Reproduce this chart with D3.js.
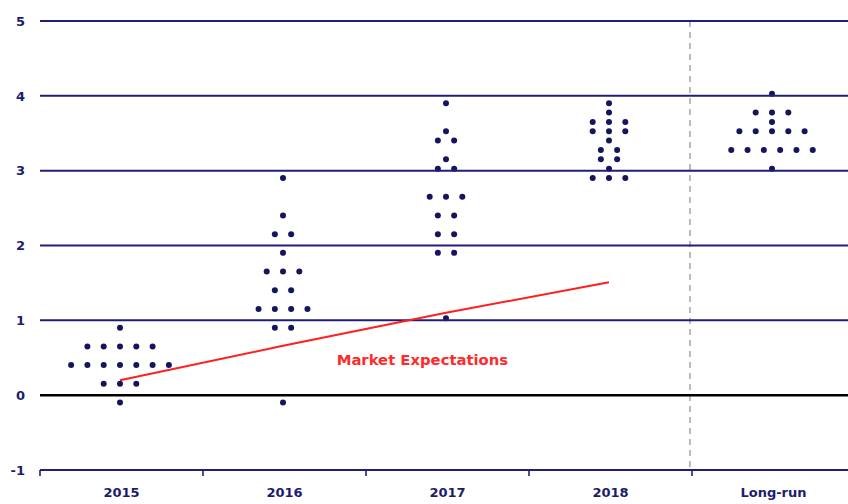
<!DOCTYPE html>
<html lang="en">
<head>
<meta charset="UTF-8">
<title>FOMC dot plot</title>
<script src="https://d3js.org/d3.v7.min.js"></script>
<style>
    body { margin: 0; padding: 0; background: #fff; }
    svg { display: block; }
    text { font-family: "DejaVu Sans", Verdana, sans-serif; font-weight: bold; }
</style>
</head>
<body>
<div id="chart"></div>
<script>
// data
const categories = ["2015", "2016", "2017", "2018", "Long-run"]
const yTicks = [-1, 0, 1, 2, 3, 4, 5]

const dots2015 = [0.875, 0.625, 0.625, 0.625, 0.625, 0.625, 0.375, 0.375, 0.375, 0.375, 0.375, 0.375, 0.375, 0.125, 0.125, 0.125, -0.125]
const dots2016 = [2.875, 2.375, 2.125, 2.125, 1.875, 1.625, 1.625, 1.625, 1.375, 1.375, 1.125, 1.125, 1.125, 1.125, 0.875, 0.875, -0.125]
const dots2017 = [3.875, 3.5, 3.375, 3.375, 3.125, 3.0, 3.0, 2.625, 2.625, 2.625, 2.375, 2.375, 2.125, 2.125, 1.875, 1.875, 1.0]
const dots2018 = [3.875, 3.75, 3.625, 3.625, 3.625, 3.5, 3.5, 3.5, 3.375, 3.25, 3.25, 3.125, 3.125, 3.0, 2.875, 2.875, 2.875]
const dotsLongRun = [4.0, 3.75, 3.75, 3.75, 3.625, 3.5, 3.5, 3.5, 3.5, 3.5, 3.25, 3.25, 3.25, 3.25, 3.25, 3.25, 3.0]
const dotSeries = [dots2015, dots2016, dots2017, dots2018, dotsLongRun]

const marketYears = ["2015", "2016", "2017", "2018"]
const marketValues = [0.2, 0.66, 1.1, 1.51]
const marketLabel = "Market Expectations"

// dimensions
const width = 848
const height = 504
const navy = "#1f1f7a"
const labelColor = "#1c1c6e"

const svg = d3.select("#chart").append("svg")
    .attr("width", width)
    .attr("height", height)

const x = d3.scaleBand()
    .domain(categories)
    .range([40, 855])
    .padding(0)

const y = d3.scaleLinear()
    .domain([-1, 5])
    .range([470, 21])

const left = x.range()[0]

// y tick labels (plain hyphen for the minus sign)
const yAxis = svg.append("g")
    .attr("transform", `translate(${left},0)`)
    .call(d3.axisLeft(y).tickValues(yTicks).tickSize(0).tickPadding(15).tickFormat(d => String(d)))
yAxis.select(".domain").remove()
yAxis.selectAll("text")
    .style("font-size", "13px")
    .attr("font-family", null)
    .attr("fill", labelColor)

// x tick labels
const xAxis = svg.append("g")
    .attr("transform", `translate(0,${y(-1)})`)
    .call(d3.axisBottom(x).tickSize(0).tickPadding(18))
xAxis.select(".domain").remove()
xAxis.selectAll("text")
    .style("font-size", "13px")
    .attr("font-family", null)
    .attr("fill", labelColor)

// boundary ticks under the bottom line
svg.append("g").selectAll("line")
    .data(categories)
    .join("line")
    .attr("x1", d => x(d))
    .attr("x2", d => x(d))
    .attr("y1", y(-1))
    .attr("y2", y(-1) + 6)
    .attr("stroke", navy)
    .attr("stroke-width", 1.6)

// dashed separator before long-run
const sepX = x("Long-run") - 2
svg.append("line")
    .attr("x1", sepX)
    .attr("x2", sepX)
    .attr("y1", y(5))
    .attr("y2", y(-1))
    .attr("stroke", "#a5a5a5")
    .attr("stroke-width", 1.5)
    .attr("stroke-dasharray", "6,5")

// dots: each row of equal values is centred in its column
const spacing = x.bandwidth() * 0.1
const dotData = []
dotSeries.forEach((vals, ci) => {
    const rows = d3.rollups(vals, v => v.length, d => d)
    rows.forEach(([v, n]) => {
        for (let i = 0; i < n; i++) {
            dotData.push({cat: categories[ci], value: v, offset: (i - (n - 1) / 2) * spacing})
        }
    })
})

svg.append("g").selectAll("circle")
    .data(dotData)
    .join("circle")
    .attr("cx", d => x(d.cat) + x.bandwidth() / 2 - 1.5 + d.offset)
    .attr("cy", d => y(d.value) - 2)
    .attr("r", 3)
    .attr("fill", "#15155e")

// horizontal gridlines (drawn over the dots)
svg.append("g").selectAll("line")
    .data(yTicks)
    .join("line")
    .attr("x1", left)
    .attr("x2", width)
    .attr("y1", d => y(d))
    .attr("y2", d => y(d))
    .attr("stroke", d => d === 0 ? "#000" : navy)
    .attr("stroke-width", d => d === 0 ? 2.5 : 2)

// market expectations line
const marketLine = d3.line()
    .x((d, i) => x(marketYears[i]) + x.bandwidth() / 2 - 1.5)
    .y(d => y(d))

svg.append("path")
    .datum(marketValues)
    .attr("d", marketLine)
    .attr("fill", "none")
    .attr("stroke", "#ff1f1f")
    .attr("stroke-width", 2)

svg.append("text")
    .attr("x", x("2016") + x.bandwidth() * 0.82)
    .attr("y", y(0.4))
    .attr("fill", "#ff2a2a")
    .style("font-size", "14.8px")
    .text(marketLabel)
</script>
</body>
</html>
